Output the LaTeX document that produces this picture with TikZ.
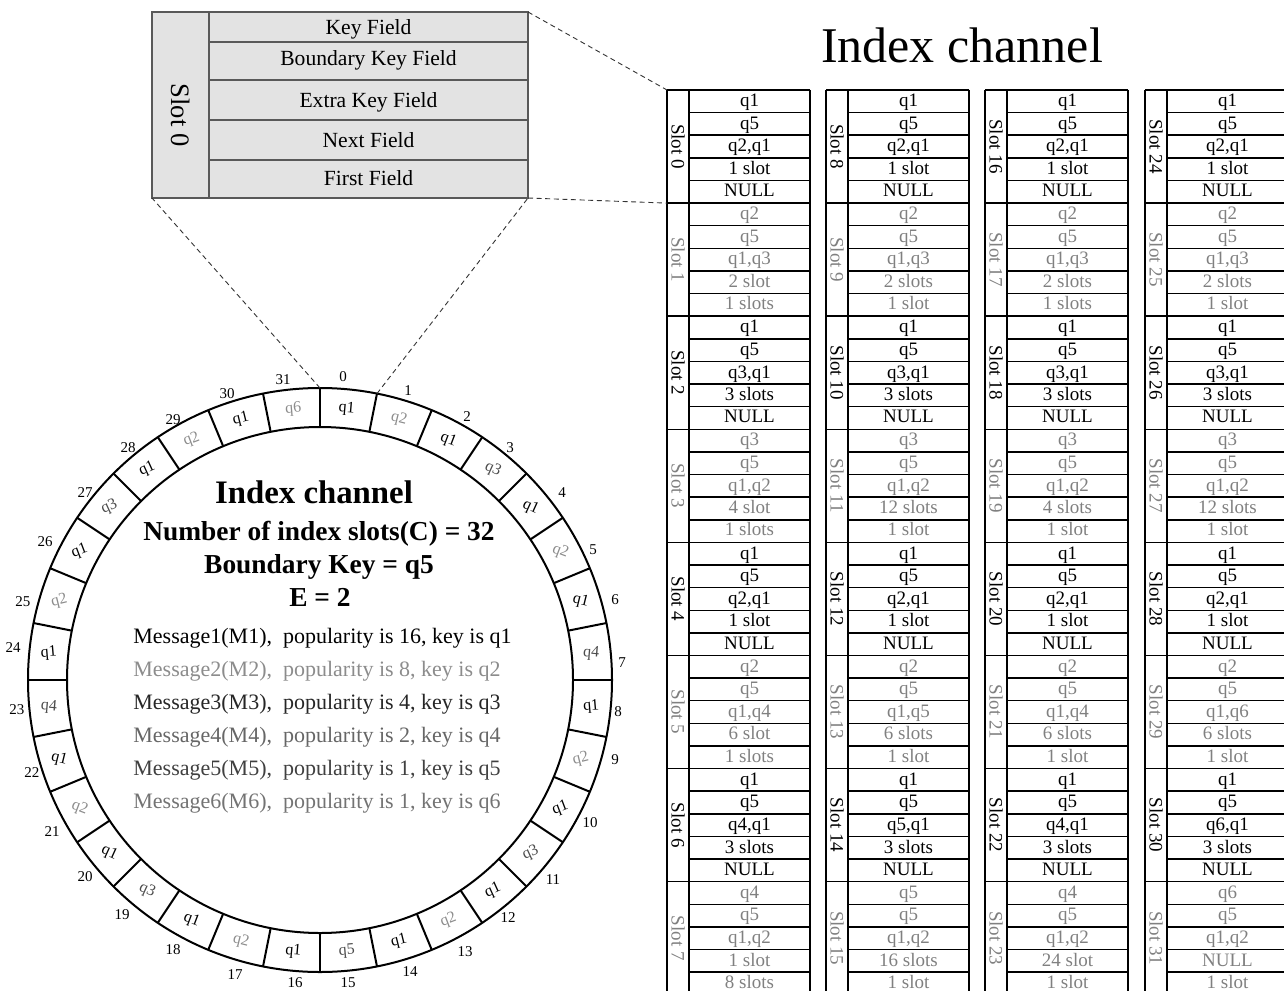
\documentclass[tikz,border=0pt]{standalone}
\usepackage{fontspec}
\setmainfont{Liberation Serif}
\definecolor{slotgray}{gray}{0.5}
\definecolor{lightkey}{gray}{0.55}
\definecolor{midkey}{gray}{0.3}
\begin{document}
\begin{tikzpicture}[x=0.5pt,y=-0.5pt,
  ringline/.style={line width=1pt},
  gridline/.style={line width=0.75pt},
  zoomline/.style={line width=0.45pt,black!80,dash pattern=on 2.5pt off 1.8pt},
  cell/.style={inner sep=0pt,anchor=base,font=\fontsize{9.5}{10}\selectfont},
  slotlabel/.style={inner sep=0pt,rotate=-90,font=\fontsize{9.5}{10}\selectfont},
  ringkey/.style={inner sep=0pt,font=\fontsize{8}{9}\selectfont},
  numlabel/.style={inner sep=0pt,font=\fontsize{7.5}{8}\selectfont},
  fieldtext/.style={inner sep=0pt,anchor=base,font=\fontsize{10.8}{12}\selectfont},
  msg/.style={inner sep=0pt,anchor=base west,font=\fontsize{11}{12}\selectfont}]
\useasboundingbox (0,0) rectangle (1284,990);

% ---------- slot layout (enlarged) ----------
\fill[black!11] (152,12) rectangle (528,198);
\draw[black!65,line width=0.6pt] (152,12) coordinate (zb-nw) -- (528,12) coordinate (zb-ne)
  -- (528,198) coordinate (zb-se) -- (152,198) coordinate (zb-sw) -- cycle;
\draw[black!65,line width=0.6pt] (209,12) -- (209,198);
\foreach \yy in {42,80,120,160} \draw[black!65,line width=0.6pt] (209,\yy) -- (528,\yy);
\node[fieldtext] (kf) at (368.5,35) {Key Field};
\node[fieldtext] (bkf) at (368.5,66) {Boundary Key Field};
\node[fieldtext] (ekf) at (368.5,108) {Extra Key Field};
\node[fieldtext] (nf) at (368.5,148) {Next Field};
\node[fieldtext] (ff) at (368.5,185) {First Field};
\node[inner sep=0pt,rotate=-90,font=\fontsize{13.3}{14}\selectfont] (zslot) at (181,115) {Slot 0};

% ---------- title of the table ----------
\node[inner sep=0pt,anchor=base,font=\fontsize{25}{28}\selectfont] (title) at (962,63) {Index channel};

% ---------- index table: four columns of eight slots ----------
\foreach \cl in {667,826,985,1145}{
  \draw[gridline] (\cl,90) -- (\cl,1000);
  \draw[gridline] (\cl+22,90) -- (\cl+22,1000);
  \draw[gridline] (\cl+143,90) -- (\cl+143,1000);
}
\foreach \k/\fa/\fb/\fc/\fd/\fe in {
 0/q1/q5/{q2,q1}/1 slot/NULL,
 1/q2/q5/{q1,q3}/2 slot/1 slots,
 2/q1/q5/{q3,q1}/3 slots/NULL,
 3/q3/q5/{q1,q2}/4 slot/1 slots,
 4/q1/q5/{q2,q1}/1 slot/NULL,
 5/q2/q5/{q1,q4}/6 slot/1 slots,
 6/q1/q5/{q4,q1}/3 slots/NULL,
 7/q4/q5/{q1,q2}/1 slot/8 slots,
 8/q1/q5/{q2,q1}/1 slot/NULL,
 9/q2/q5/{q1,q3}/2 slots/1 slot,
 10/q1/q5/{q3,q1}/3 slots/NULL,
 11/q3/q5/{q1,q2}/12 slots/1 slot,
 12/q1/q5/{q2,q1}/1 slot/NULL,
 13/q2/q5/{q1,q5}/6 slots/1 slot,
 14/q1/q5/{q5,q1}/3 slots/NULL,
 15/q5/q5/{q1,q2}/16 slots/1 slot,
 16/q1/q5/{q2,q1}/1 slot/NULL,
 17/q2/q5/{q1,q3}/2 slots/1 slots,
 18/q1/q5/{q3,q1}/3 slots/NULL,
 19/q3/q5/{q1,q2}/4 slots/1 slot,
 20/q1/q5/{q2,q1}/1 slot/NULL,
 21/q2/q5/{q1,q4}/6 slots/1 slot,
 22/q1/q5/{q4,q1}/3 slots/NULL,
 23/q4/q5/{q1,q2}/24 slot/1 slot,
 24/q1/q5/{q2,q1}/1 slot/NULL,
 25/q2/q5/{q1,q3}/2 slots/1 slot,
 26/q1/q5/{q3,q1}/3 slots/NULL,
 27/q3/q5/{q1,q2}/12 slots/1 slot,
 28/q1/q5/{q2,q1}/1 slot/NULL,
 29/q2/q5/{q1,q6}/6 slots/1 slot,
 30/q1/q5/{q6,q1}/3 slots/NULL,
 31/q6/q5/{q1,q2}/NULL/1 slot}{
  \pgfmathtruncatemacro{\col}{int(\k/8)}
  \pgfmathtruncatemacro{\row}{mod(\k,8)}
  \pgfmathtruncatemacro{\odd}{mod(\k,2)}
  \pgfmathsetmacro{\xl}{{667,826,985,1145}[\col]}
  \pgfmathsetmacro{\xd}{\xl+22}
  \pgfmathsetmacro{\xr}{\xl+143}
  \pgfmathsetmacro{\xm}{(\xd+\xr)/2}
  \pgfmathsetmacro{\yt}{90+\row*113.1}
  \ifnum\odd=1 \def\tc{slotgray}\else\def\tc{black}\fi
  \draw[gridline] (\xl,\yt) coordinate (t\k-nw) -- (\xr,\yt);
  \foreach \i in {1,...,4}
    \draw[gridline] (\xd,\yt+\i*22.62) -- (\xr,\yt+\i*22.62);
  \node[slotlabel,text=\tc] (s\k) at ({(\xl+\xd)/2},\yt+56.5) {Slot \k};
  \node[cell,text=\tc] (s\k-key) at (\xm,\yt+22.62-6) {\fa};
  \node[cell,text=\tc] (s\k-bnd) at (\xm,\yt+2*22.62-6) {\fb};
  \node[cell,text=\tc] (s\k-ext) at (\xm,\yt+3*22.62-6) {\fc};
  \node[cell,text=\tc] (s\k-nxt) at (\xm,\yt+4*22.62-6) {\fd};
  \node[cell,text=\tc] (s\k-fst) at (\xm,\yt+5*22.62-6.5) {\fe};
}

% ---------- broadcast ring of 32 index slots ----------
\begin{scope}[shift={(320,680)}]
  \draw[ringline] (0,0) circle[radius=146pt];
  \draw[ringline] (0,0) circle[radius=126.5pt];
  \foreach \k in {0,...,31}
    \draw[ringline] ({90-\k*11.25}:126.5pt) -- ({90-\k*11.25}:146pt);
  \coordinate (ring0) at (90:146pt);
  \coordinate (ring1) at (78.75:146pt);
  \foreach \k/\q/\c in {0/q1/black,1/q2/lightkey,2/q1/black,3/q3/midkey,
      4/q1/black,5/q2/lightkey,6/q1/black,7/q4/midkey,
      8/q1/black,9/q2/lightkey,10/q1/black,11/q3/midkey,
      12/q1/black,13/q2/lightkey,14/q1/black,15/q5/midkey,
      16/q1/black,17/q2/lightkey,18/q1/black,19/q3/midkey,
      20/q1/black,21/q2/lightkey,22/q1/black,23/q4/midkey,
      24/q1/black,25/q2/lightkey,26/q1/black,27/q3/midkey,
      28/q1/black,29/q2/lightkey,30/q1/black,31/q6/lightkey}
    \node[ringkey,text=\c,rotate={-25*sin(2*(90-(\k+0.5)*11.25))}] (r\k)
      at ({90-(\k+0.5)*11.25}:136.25pt) {\q};
\end{scope}

% slot numbers around the ring
\foreach \n/\px/\py in {0/343/377,1/408/391,2/467/417,3/510/448,4/562/493,
    5/593/550,6/615/600,7/622/663,8/618/712,9/615/760,10/590/823,11/553/880,
    12/508/918,13/465/952,14/410/972,15/348/983,16/295/983,17/235/975,
    18/173/950,19/122/915,20/85/877,21/52/832,22/32/773,23/17/710,24/13/648,
    25/23/602,26/45/542,27/85/493,28/128/448,29/173/420,30/227/394,31/283/380}
  \node[numlabel] (n\n) at (\px,\py) {\n};

% channel parameters inside the ring
\node[inner sep=0pt,anchor=base,font=\bfseries\fontsize{16.4}{18}\selectfont] (ctitle) at (314,503) {Index channel};
\node[inner sep=0pt,anchor=base,font=\bfseries\fontsize{13.7}{15}\selectfont] (cnum) at (319,540) {Number of index slots(C) = 32};
\node[inner sep=0pt,anchor=base,font=\bfseries\fontsize{13.7}{15}\selectfont] (cbk) at (319,573) {Boundary Key = q5};
\node[inner sep=0pt,anchor=base,font=\bfseries\fontsize{13.7}{15}\selectfont] (ce) at (320,606) {E = 2};
\node[msg,text=black] (m1) at (133,643) {Message1(M1),\ \ popularity is 16, key is q1};
\node[msg,text=black!45] (m2) at (133,676) {Message2(M2),\ \ popularity is 8, key is q2};
\node[msg,text=black!85] (m3) at (133,709) {Message3(M3),\ \ popularity is 4, key is q3};
\node[msg,text=black!60] (m4) at (133,742) {Message4(M4),\ \ popularity is 2, key is q4};
\node[msg,text=black!75] (m5) at (133,775) {Message5(M5),\ \ popularity is 1, key is q5};
\node[msg,text=black!55] (m6) at (133,808) {Message6(M6),\ \ popularity is 1, key is q6};

% zoom lines: ring slot 0 -> enlarged layout -> slot 0 of the table
\draw[zoomline] (ring0) -- (zb-sw);
\draw[zoomline] (ring1) -- (zb-se);
\draw[zoomline] (zb-ne) -- (t0-nw);
\draw[zoomline] (zb-se) -- (t1-nw);
\end{tikzpicture}
\end{document}
